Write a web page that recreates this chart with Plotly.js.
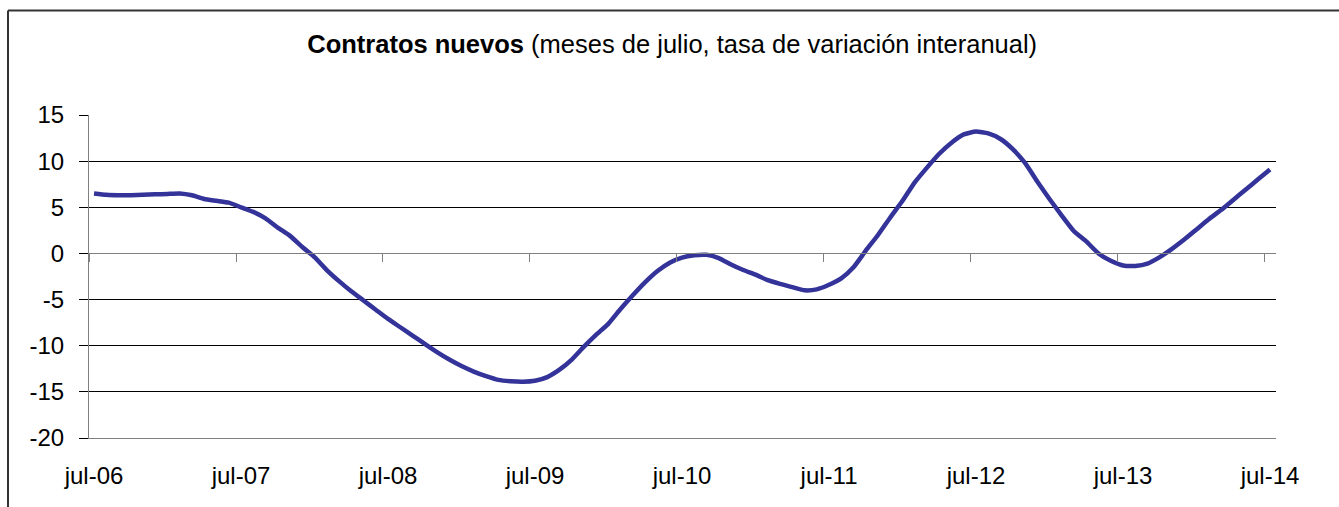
<!DOCTYPE html>
<html>
<head>
<meta charset="utf-8">
<script src="https://cdn.plot.ly/plotly-3.0.1.min.js"></script>
<style>
  html, body { margin: 0; padding: 0; background: #fff; }
  #chart { width: 1339px; height: 507px; }
</style>
</head>
<body>
<div id="chart"></div>
<script>
// Monthly year-on-year rate of change, jul-06 ... jul-14 (97 months)
const months = [];
for (let i = 0; i <= 96; i++) months.push(i);

const values = [
  6.5, 6.35, 6.3, 6.3, 6.35, 6.4, 6.45, 6.5, 6.3, 5.9,
  5.7, 5.5, 5.0, 4.5, 3.8, 2.8, 1.9, 0.7, -0.4, -1.8,
  -3.0, -4.1, -5.1, -6.1, -7.1, -8.0, -8.9, -9.8, -10.7, -11.5,
  -12.2, -12.8, -13.3, -13.7, -13.85, -13.9, -13.8, -13.4, -12.6, -11.5,
  -10.1, -8.8, -7.6, -6.0, -4.5, -3.1, -1.9, -1.0, -0.45, -0.2,
  -0.15, -0.5, -1.2, -1.8, -2.3, -2.9, -3.3, -3.65, -4.0, -3.9,
  -3.4, -2.7, -1.5, 0.3, 2.0, 3.9, 5.7, 7.7, 9.3, 10.8,
  12.0, 12.9, 13.2, 13.0, 12.4, 11.3, 9.8, 7.8, 5.9, 4.1,
  2.4, 1.3, 0.0, -0.8, -1.3, -1.35, -1.1, -0.4, 0.5, 1.5,
  2.6, 3.7, 4.7, 5.8, 6.9, 8.0, 9.1
];

const tickLabels = ["jul-06", "jul-07", "jul-08", "jul-09", "jul-10", "jul-11", "jul-12", "jul-13", "jul-14"];
const labelPositions = [0, 12, 24, 36, 48, 60, 72, 84, 96];
const yTicks = [-20, -15, -10, -5, 0, 5, 10, 15];
const yTickLabels = ["-20", "-15", "-10", "-5", "0", "5", "10", "15"];

const xRange = [-0.41, 96.49];
const tickMarkPositions = labelPositions.map(v => v - 0.41);

const FONT = "Liberation Sans, Arial, sans-serif";

const trace = {
  x: months,
  y: values,
  type: "scatter",
  mode: "lines",
  line: { color: "#333399", width: 4.5, shape: "spline", smoothing: 0.5 },
  hoverinfo: "skip"
};

// helper trace so that the zero-crossing category axis is drawn
const axisHelper = {
  x: [xRange[0]],
  y: [null],
  xaxis: "x2",
  yaxis: "y",
  type: "scatter",
  mode: "lines",
  line: { width: 0 },
  hoverinfo: "skip",
  showlegend: false
};

// border (chart area outline, cropped at right/bottom)
const px = v => (v - 89) / 1187;
const py = v => (438 - v) / 323;

const layout = {
  width: 1339,
  height: 507,
  margin: { l: 89, r: 63, t: 115, b: 69 },
  paper_bgcolor: "#ffffff",
  plot_bgcolor: "#ffffff",
  showlegend: false,
  font: { family: FONT, size: 24, color: "#000" },
  title: {
    text: "<b>Contratos nuevos</b> (meses de julio, tasa de variación interanual)",
    font: { family: FONT, size: 25.5, color: "#000" },
    xref: "container", x: 0.502, xanchor: "center",
    yref: "container", y: 1 - 43.6 / 507, yanchor: "middle"
  },
  xaxis: {
    range: xRange,
    tickvals: labelPositions,
    ticktext: tickLabels,
    ticks: "",
    showgrid: false,
    zeroline: false,
    showline: true,
    linecolor: "#808080",
    linewidth: 1,
    ticklabelstandoff: 16,
    tickfont: { family: FONT, size: 24, color: "#000" },
    fixedrange: true
  },
  xaxis2: {
    overlaying: "x",
    anchor: "free",
    position: 20 / 35,
    range: xRange,
    tickvals: tickMarkPositions,
    showticklabels: false,
    ticks: "outside",
    ticklen: 8,
    tickcolor: "#808080",
    tickwidth: 1,
    showgrid: false,
    zeroline: false,
    showline: true,
    linecolor: "#808080",
    linewidth: 1,
    fixedrange: true
  },
  yaxis: {
    range: [-20, 15],
    tickvals: yTicks,
    ticktext: yTickLabels,
    ticks: "outside",
    ticklen: 9,
    tickcolor: "#000",
    tickwidth: 1,
    showgrid: true,
    gridcolor: "#000",
    gridwidth: 1,
    zeroline: false,
    showline: true,
    linecolor: "#808080",
    linewidth: 1,
    ticklabelstandoff: 10,
    tickfont: { family: FONT, size: 24, color: "#000" },
    fixedrange: true
  },
  shapes: [
    { type: "line", xref: "paper", yref: "paper",
      x0: px(8), x1: px(8), y0: py(530), y1: py(10.5),
      line: { color: "#333", width: 2 } },
    { type: "line", xref: "paper", yref: "paper",
      x0: px(8), x1: px(1350), y0: py(10.5), y1: py(10.5),
      line: { color: "#333", width: 2 } }
  ]
};

Plotly.newPlot("chart", [trace, axisHelper], layout, { staticPlot: true, displayModeBar: false });
</script>
</body>
</html>
